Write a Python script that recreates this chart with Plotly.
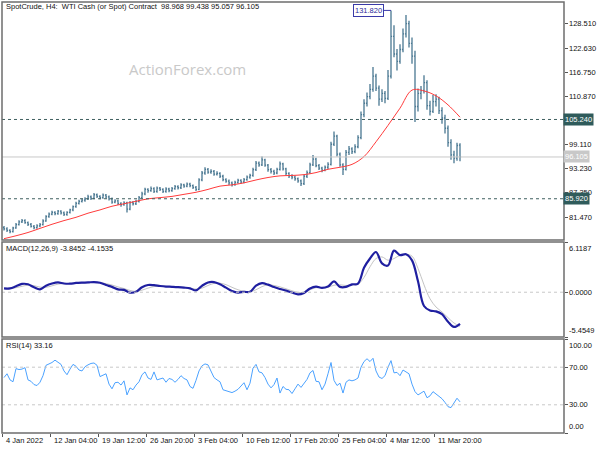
import plotly.graph_objects as go

# ---------------- data ----------------
title_text = "SpotCrude, H4:  WTI Cash (or Spot) Contract  98.968 99.438 95.057 96.105"
macd_text = "MACD(12,26,9) -3.8452 -4.1535"
rsi_text = "RSI(14) 33.16"
watermark = "ActionForex.com"

opens = [78.9,78.6,78.2,77.9,78.8,79.6,80.3,80.6,80.1,79.7,
79.2,78.9,79.3,79.6,80.5,81.6,82.2,82.6,82.3,82.9,
82.5,82.1,82.6,83.2,84.0,84.8,85.3,85.6,85.9,86.4,
86.0,86.9,86.5,86.2,86.8,86.4,85.9,85.1,85.4,84.8,
84.5,84.9,83.4,85.0,84.7,85.3,86.2,87.1,88.2,87.9,
88.4,87.7,88.5,88.2,87.7,88.3,87.9,88.4,88.9,88.6,
89.3,89.0,89.5,89.1,88.7,88.2,90.5,92.2,93.1,92.4,
92.6,91.9,92.1,91.4,90.6,90.2,89.8,89.4,89.9,90.4,
90.0,90.6,91.2,91.6,93.0,94.6,94.2,95.4,94.1,93.0,
92.6,92.2,93.1,94.4,93.2,92.1,91.5,91.2,90.8,90.3,
89.6,91.4,92.3,94.2,95.6,94.0,93.4,92.9,93.6,94.3,
99.2,101.2,96.8,94.2,93.1,97.2,98.1,97.4,98.6,100.8,
106.4,109.2,110.8,112.6,115.8,112.9,110.2,111.6,110.4,115.8,
125.5,121.2,119.4,122.3,126.1,128.6,123.8,120.7,108.4,111.6,
112.3,114.2,108.6,107.2,109.6,110.2,107.4,105.6,103.1,99.6,
96.6,95.8,98.968]

highs = [79.3,79.0,78.5,79.1,80.0,80.7,81.0,80.9,80.4,80.0,
79.5,79.7,80.0,80.9,81.9,82.6,83.0,82.9,83.2,83.1,
82.8,82.9,83.5,84.3,85.2,85.7,86.0,86.3,86.9,86.7,
87.3,87.2,86.8,87.2,87.1,86.7,86.2,85.8,85.7,85.1,
85.3,85.2,85.4,85.4,85.7,86.6,87.6,88.6,88.5,88.9,
88.7,88.9,88.8,88.5,88.7,88.6,88.8,89.3,89.2,89.7,
89.6,89.9,89.8,89.4,89.0,90.9,92.7,93.6,93.4,93.1,
92.9,92.6,92.4,91.8,90.9,90.6,90.1,90.3,90.8,90.7,
91.0,91.6,92.0,93.5,95.1,95.0,96.2,95.7,94.4,93.4,
93.0,93.5,95.0,94.7,93.5,92.4,91.9,91.6,91.1,90.6,
91.8,92.8,94.7,96.6,95.9,94.4,93.7,94.0,94.8,99.8,
102.3,101.5,97.2,94.6,97.8,98.8,98.5,99.2,101.4,107.2,
110.2,111.8,113.9,118.0,116.4,113.5,112.6,112.2,117.3,131.82,
128.2,122.4,123.6,127.4,130.7,129.3,125.2,122.0,112.8,113.4,
116.0,114.8,109.8,111.2,111.4,110.8,108.2,106.4,103.8,100.4,
97.6,99.6,99.438]

lows = [78.2,77.8,77.5,77.7,78.6,79.4,80.0,79.8,79.3,78.9,
78.5,78.6,79.0,79.4,80.3,81.3,81.9,81.9,82.0,82.1,
81.7,81.8,82.3,82.9,83.7,84.5,85.0,85.2,85.6,85.6,
85.8,86.1,85.8,85.9,86.0,85.5,84.7,84.8,84.4,84.0,
84.2,82.6,83.1,84.3,84.4,85.0,85.9,86.8,87.4,87.6,
87.3,87.4,87.8,87.3,87.4,87.5,87.6,88.1,88.2,88.3,
88.6,88.7,88.7,88.3,87.8,88.0,90.2,91.8,92.0,92.0,
91.5,91.6,91.0,90.2,89.8,89.3,88.9,89.1,89.6,89.6,
89.7,90.3,90.8,91.3,92.7,93.7,93.9,93.7,92.5,92.1,
91.7,91.9,92.8,92.8,91.6,91.0,90.7,90.3,89.8,89.0,
89.3,91.0,92.0,93.9,93.6,92.9,92.4,92.6,93.2,94.0,
98.8,96.2,93.7,91.7,92.8,96.6,96.8,97.0,98.2,100.4,
105.8,108.4,110.2,112.0,112.2,108.6,109.5,109.2,110.0,115.2,
120.4,117.2,118.8,121.6,125.2,122.8,118.8,104.6,107.2,110.2,
111.6,107.6,106.2,106.8,108.4,106.6,104.2,101.8,98.6,95.4,
94.6,95.2,95.057]

closes = [78.6,78.2,77.9,78.8,79.6,80.3,80.6,80.1,79.7,79.2,
78.9,79.3,79.6,80.5,81.6,82.2,82.6,82.3,82.9,82.5,
82.1,82.6,83.2,84.0,84.8,85.3,85.6,85.9,86.4,86.0,
86.9,86.5,86.2,86.8,86.4,85.9,85.1,85.4,84.8,84.5,
84.9,83.4,85.0,84.7,85.3,86.2,87.1,88.2,87.9,88.4,
87.7,88.5,88.2,87.7,88.3,87.9,88.4,88.9,88.6,89.3,
89.0,89.5,89.1,88.7,88.2,90.5,92.2,93.1,92.4,92.6,
91.9,92.1,91.4,90.6,90.2,89.8,89.4,89.9,90.4,90.0,
90.6,91.2,91.6,93.0,94.6,94.2,95.4,94.1,93.0,92.6,
92.2,93.1,94.4,93.2,92.1,91.5,91.2,90.8,90.3,89.6,
91.4,92.3,94.2,95.6,94.0,93.4,92.9,93.6,94.3,99.2,
101.2,96.8,94.2,93.1,97.2,98.1,97.4,98.6,100.8,106.4,
109.2,110.8,112.6,115.8,112.9,110.2,111.6,110.4,115.8,125.5,
121.2,119.4,122.3,126.1,128.6,123.8,120.7,108.4,111.6,112.3,
114.2,108.6,107.2,109.6,110.2,107.4,105.6,103.1,99.6,96.6,
95.8,98.9,96.105]

# moving average sampled every 4 bars
ma_step = 4
ma_values = [76.2,76.9,77.7,78.7,79.7,80.6,81.4,82.4,83.2,84.1,
84.7,85.3,85.9,86.2,86.5,87.0,87.5,88.2,89.0,89.3,
89.8,90.5,91.1,91.5,91.6,91.8,92.3,93.1,93.6,94.3,
96.2,99.8,103.8,108.0,112.4,112.2,111.0,108.8,105.8]

# MACD sampled every 2 bars
macd_step = 2
macd_main = [0.47,0.47,0.72,1.01,0.97,0.6,0.35,0.8,1.06,1.19,
1.06,1.04,1.13,1.17,1.19,1.24,1.15,0.88,0.65,0.35,
0.28,-0.05,0.05,0.6,0.88,0.86,0.76,0.69,0.66,0.62,
0.56,0.47,0.22,0.78,1.19,1.24,0.97,0.56,0.15,-0.04,
0.05,0.05,0.8,1.1,0.92,0.63,0.4,0.19,-0.04,-0.26,
-0.08,0.46,0.69,0.53,0.69,1.33,0.65,0.65,0.95,1.06,
2.97,4.11,4.9,3.52,3.25,5.07,4.52,4.63,3.88,1.33,
-1.68,-2.23,-2.33,-2.68,-3.59,-4.23,-3.8452]
macd_signal = [0.45,0.46,0.55,0.72,0.85,0.8,0.62,0.6,0.78,0.98,
1.06,1.05,1.08,1.12,1.16,1.2,1.17,1.05,0.88,0.65,
0.45,0.22,0.1,0.25,0.5,0.68,0.75,0.72,0.68,0.64,
0.58,0.5,0.38,0.5,0.82,1.08,1.1,0.92,0.6,0.3,
0.12,0.06,0.3,0.68,0.9,0.82,0.65,0.42,0.18,-0.02,
0.0,0.3,0.55,0.55,0.62,0.85,0.9,0.82,0.88,0.98,
1.8,3.1,4.1,4.3,3.9,4.1,4.5,4.6,4.4,2.9,
0.9,-0.8,-1.8,-2.4,-3.1,-3.75,-4.1535]

rsi_values = [59,63,56.5,54.5,68.5,67.5,68,69.5,56.5,55,
51.5,50.5,54,61,72,73.5,75,77.5,75,73,
66,62,68,73,71,67,66,70.5,72.5,74,
74.5,72,60,61.5,63,52,47,53.5,54,51,
55.5,40.5,48,46,51,54.5,62,65,58.5,57,
65,56.5,57.5,58.5,54,58,57,54,57,61,
58,56.5,49.5,47.5,56,66,71.5,73.5,72.5,66,
59,56.5,54.5,46,45,44.5,43,44.5,46.5,50,
53.5,46,53,69,73,65,64,59,52,48,
51.5,58.5,42.5,49.5,46.5,46,42,47,52,48.5,
52.5,57,64,66.5,55,54.5,46,52,63,75,
56,50.5,53,42.5,54,56.5,55.5,56.5,58.5,70,
76,79,76,79.5,66,59.5,58,61,70,77,
64,64.5,61,67,65,63,52,44,40.5,43,
44.5,37.5,39.5,44,41.5,39.5,36.5,32.5,28,27,
31.5,37,33.16]

price_ticks = [128.51, 122.63, 116.75, 110.87, 99.11, 93.23, 87.35, 81.47]
level_lines = [105.24, 85.92]
last_price = 96.105
macd_ticks = [6.1187, 0.0, -5.4549]
rsi_levels = [70, 30]
rsi_ticks = [100, 70, 30, 0]
date_labels = ["4 Jan 2022", "12 Jan 04:00", "19 Jan 12:00", "26 Jan 20:00", "3 Feb 04:00",
               "10 Feb 12:00", "17 Feb 20:00", "25 Feb 04:00", "4 Mar 12:00", "11 Mar 20:00"]
date_label_bars = [0, 16, 32, 48, 64, 80, 96, 112, 128, 144]

# ---------------- layout constants ----------------
W, H = 600, 450
FONT = "Liberation Sans"
FS = 7.5
XL, XR = 2, 564          # plot area pixel edges
P_MAIN = (2, 240)
P_MACD = (242, 337)
P_RSI = (339, 433)


def dom(p):
    return [1 - p[1] / H, 1 - p[0] / H]


n = len(closes)
bars = list(range(n))
x_range = [-0.667, -0.667 + (XR - XL) / 3.0]

fig = go.Figure()
fig.add_trace(go.Ohlc(x=bars, open=opens, high=highs, low=lows, close=closes,
                      increasing=dict(line=dict(color="#4a7892", width=1.3)),
                      decreasing=dict(line=dict(color="#4a7892", width=1.3)),
                      tickwidth=0.35, xaxis="x", yaxis="y", hoverinfo="skip"))
fig.add_trace(go.Scatter(x=[j * ma_step for j in range(len(ma_values))], y=ma_values,
                         mode="lines", line=dict(color="#ff3b3b", width=1, shape="spline"),
                         xaxis="x", yaxis="y", hoverinfo="skip"))
fig.add_trace(go.Scatter(x=[k * macd_step for k in range(len(macd_signal))], y=macd_signal,
                         mode="lines", line=dict(color="#c4c4c4", width=1, shape="spline"),
                         xaxis="x2", yaxis="y2", hoverinfo="skip"))
fig.add_trace(go.Scatter(x=[k * macd_step for k in range(len(macd_main))], y=macd_main,
                         mode="lines", line=dict(color="#1f1fa0", width=2.2, shape="spline"),
                         xaxis="x2", yaxis="y2", hoverinfo="skip"))
fig.add_trace(go.Scatter(x=bars, y=rsi_values, mode="lines",
                         line=dict(color="#4ba2ff", width=1),
                         xaxis="x3", yaxis="y3", hoverinfo="skip"))

xd = [XL / W, XR / W]
common_x = dict(domain=xd, range=x_range, showgrid=False, zeroline=False,
                showticklabels=False, rangeslider=dict(visible=False), fixedrange=True)
common_y = dict(side="right", showgrid=False, zeroline=False, showticklabels=False,
                ticks="outside", ticklen=3, tickcolor="#555555", fixedrange=True)
fig.update_layout(
    width=W, height=H, margin=dict(l=0, r=0, t=0, b=0),
    paper_bgcolor="white", plot_bgcolor="white", showlegend=False,
    xaxis=dict(common_x, anchor="y"),
    xaxis2=dict(common_x, anchor="y2", matches="x"),
    xaxis3=dict(common_x, anchor="y3", matches="x", ticks="outside", ticklen=3,
                tickcolor="#555555", tickvals=[b - 0.5 for b in date_label_bars]),
    yaxis=dict(common_y, domain=dom(P_MAIN), anchor="x", range=[75.87, 133.87],
               tickvals=price_ticks),
    yaxis2=dict(common_y, domain=dom(P_MACD), anchor="x2", range=[-5.4549, 6.1187],
                tickvals=macd_ticks),
    yaxis3=dict(common_y, domain=dom(P_RSI), anchor="x3", range=[0, 100],
                tickvals=rsi_ticks),
)

shapes = []
# level lines
for v in level_lines:
    shapes.append(dict(type="line", xref="paper", yref="y", x0=xd[0], x1=xd[1], y0=v, y1=v,
                       line=dict(color="#3f5f5f", width=1, dash="3px,3px")))
shapes.append(dict(type="line", xref="paper", yref="y", x0=xd[0], x1=xd[1],
                   y0=last_price, y1=last_price, line=dict(color="#c8c8c8", width=1)))
shapes.append(dict(type="line", xref="paper", yref="y2", x0=xd[0], x1=xd[1], y0=0, y1=0,
                   line=dict(color="#c8c8c8", width=1, dash="3px,3px")))
for v in rsi_levels:
    shapes.append(dict(type="line", xref="paper", yref="y3", x0=xd[0], x1=xd[1], y0=v, y1=v,
                       line=dict(color="#c8c8c8", width=1, dash="3px,3px")))
# panel frames
for p in (P_MAIN, P_MACD, P_RSI):
    d = dom(p)
    shapes.append(dict(type="rect", xref="paper", yref="paper", x0=xd[0], x1=xd[1],
                       y0=d[0], y1=d[1], line=dict(color="#6e6e6e", width=1.5),
                       fillcolor="rgba(0,0,0,0)", layer="above"))
# connector for max-high label
imax = max(range(n), key=lambda i: highs[i])
shapes.append(dict(type="line", xref="x", yref="y", x0=imax - 2.4, x1=imax,
                   y0=highs[imax], y1=highs[imax], line=dict(color="#3a3aa8", width=1)))
fig.update_layout(shapes=shapes)

ann = []
tf = dict(family=FONT, size=FS, color="#111111")
ann.append(dict(text=title_text, x=4 / W, y=1 - 7 / H, xref="paper", yref="paper",
                xanchor="left", yanchor="middle", showarrow=False, font=tf))
ann.append(dict(text=macd_text, x=4 / W, y=1 - 248 / H, xref="paper", yref="paper",
                xanchor="left", yanchor="middle", showarrow=False, font=tf))
ann.append(dict(text=rsi_text, x=4 / W, y=1 - 345 / H, xref="paper", yref="paper",
                xanchor="left", yanchor="middle", showarrow=False, font=tf))
ann.append(dict(text=watermark, x=187 / W, y=1 - 69 / H, xref="paper", yref="paper",
                xanchor="center", yanchor="middle", showarrow=False,
                font=dict(family="Open Sans", size=15, color="#c9c9c9")))
lx = (XR + 3) / W
for v in price_ticks:
    ann.append(dict(text=f"{v:.3f}", x=lx, y=v, xref="paper", yref="y", xanchor="left",
                    yanchor="middle", showarrow=False, font=tf))
ann.append(dict(text=f"{macd_ticks[0]:.4f}", x=lx, y=macd_ticks[0], xref="paper", yref="y2",
                xanchor="left", yanchor="top", showarrow=False, font=tf))
ann.append(dict(text=f"{macd_ticks[1]:.4f}", x=lx, y=macd_ticks[1], xref="paper", yref="y2",
                xanchor="left", yanchor="middle", showarrow=False, font=tf))
ann.append(dict(text=f"{macd_ticks[2]:.4f}", x=lx, y=macd_ticks[2], xref="paper", yref="y2",
                xanchor="left", yanchor="bottom", showarrow=False, font=tf))
for v in rsi_ticks:
    ya = "top" if v == 100 else ("bottom" if v == 0 else "middle")
    ann.append(dict(text=f"{v:.2f}", x=lx, y=v, xref="paper", yref="y3", xanchor="left",
                    yanchor=ya, showarrow=False, font=tf))
# boxed level labels
for v in level_lines:
    ann.append(dict(text=f"{v:.3f}", x=(XR - 1) / W, y=v, xref="paper", yref="y",
                    xanchor="left", yanchor="middle", showarrow=False,
                    bgcolor="#2f5b5b", borderpad=1,
                    font=dict(family=FONT, size=FS, color="white")))
ann.append(dict(text=f"{last_price:.3f}", x=(XR - 1) / W, y=last_price, xref="paper", yref="y",
                xanchor="left", yanchor="middle", showarrow=False,
                bgcolor="#c8c8c8", borderpad=1,
                font=dict(family=FONT, size=FS, color="white")))
# max-high label
ann.append(dict(text=f"{highs[imax]:.3f}", x=imax - 2.4, y=highs[imax], xref="x", yref="y",
                xanchor="right", yanchor="middle", showarrow=False,
                bgcolor="white", bordercolor="#3a3aa8", borderwidth=1, borderpad=1,
                font=dict(family=FONT, size=FS, color="#2a2a9a")))
# date labels
for b, t in zip(date_label_bars, date_labels):
    ann.append(dict(text=t, x=b, y=1 - 440 / H, xref="x3", yref="paper",
                    xanchor="left", yanchor="middle", showarrow=False, font=tf))
fig.update_layout(annotations=ann)

fig.write_html("out.html", config={"displayModeBar": False},
               post_script="document.body.style.margin='0px';document.body.style.padding='0px';")
